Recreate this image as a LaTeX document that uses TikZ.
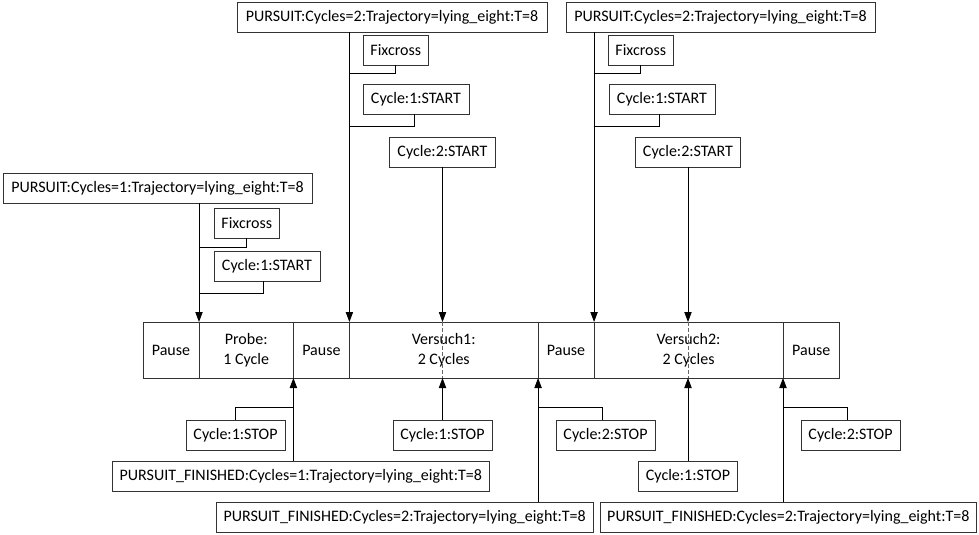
\documentclass[tikz,border=0pt]{standalone}
\usepackage{fontspec}
\setmainfont{Carlito}
\usetikzlibrary{arrows.meta,positioning}

\begin{document}
\begin{tikzpicture}[x=0.75pt,y=-0.75pt,
  every node/.style={font=\fontsize{12}{14.6}\selectfont},
  evbox/.style={draw=black!80, line width=0.6pt, minimum height=22.5pt, inner sep=1pt, outer sep=0pt},
  seg/.style={draw=black!80, line width=0.6pt, minimum height=42pt, inner sep=0pt, outer sep=0pt, align=center},
  arr/.style={line width=0.6pt, -{Triangle[length=7.5pt,width=5.5pt]}},
  link/.style={line width=0.6pt},
  dashline/.style={line width=0.6pt, black!60, dash pattern=on 3pt off 1.5pt}]
\useasboundingbox (0,0) rectangle (979,535);

% time line
\node[seg, minimum width=42pt, anchor=north west] (pa1) at (143,322) {Pause};
\node[seg, minimum width=70.8pt, right=0pt of pa1] (probe) {Probe:\\1 Cycle};
\node[seg, minimum width=42pt, right=0pt of probe] (pa2) {Pause};
\node[seg, minimum width=141.5pt, right=0pt of pa2] (v1) {Versuch1:\\2 Cycles};
\node[seg, minimum width=42pt, right=0pt of v1] (pa3) {Pause};
\node[seg, minimum width=141.7pt, right=0pt of pa3] (v2) {Versuch2:\\2 Cycles};
\node[seg, minimum width=42.5pt, right=0pt of v2] (pa4) {Pause};

% events above
\node[evbox, minimum width=231.8pt, anchor=north west] (pur1) at (3,173) {PURSUIT:Cycles=1:Trajectory=lying\_eight:T=8};
\node[evbox, minimum width=49.2pt, anchor=north west] (fix1) at (214,208) {Fixcross};
\node[evbox, minimum width=79.5pt, anchor=north west] (cs1) at (214,251) {Cycle:1:START};
\coordinate (k1) at (199,247);
\coordinate (k2) at (199,293);
\draw[arr] (pur1.south -| probe.north west) -- (probe.north west);
\draw[link] (fix1.south) |- (k1);
\draw[link] ([xshift=-2.5pt]cs1.south) |- (k2);

\node[evbox, minimum width=232.5pt, anchor=north west] (pur2) at (237,2) {PURSUIT:Cycles=2:Trajectory=lying\_eight:T=8};
\node[evbox, minimum width=49.2pt, anchor=north west] (fix2) at (363,35) {Fixcross};
\node[evbox, minimum width=79.5pt, anchor=north west] (cs2) at (363,84) {Cycle:1:START};
\node[evbox, minimum width=79.2pt, anchor=south] (cs3) at (442.5,167) {Cycle:2:START};
\coordinate (k3) at (350,73);
\coordinate (k4) at (350,126);
\draw[arr] (pur2.south -| v1.north west) -- (v1.north west);
\draw[link] (fix2.south) |- (k3);
\draw[link] ([xshift=-1.5pt]cs2.south) |- (k4);
\draw[arr] (cs3.south) -- (cs3.south |- v1.north);
\draw[dashline] (cs3.south |- v1.north) -- (cs3.south |- v1.south);

\node[evbox, minimum width=231.8pt, anchor=north west] (pur3) at (566,2) {PURSUIT:Cycles=2:Trajectory=lying\_eight:T=8};
\node[evbox, minimum width=49.2pt, anchor=north west] (fix3) at (608,35) {Fixcross};
\node[evbox, minimum width=79.5pt, anchor=north west] (cs4) at (609,84) {Cycle:1:START};
\node[evbox, minimum width=79.2pt, anchor=south] (cs5) at (688,167) {Cycle:2:START};
\coordinate (k5) at (595,73);
\coordinate (k6) at (595,126);
\draw[arr] (pur3.south -| v2.north west) -- (v2.north west);
\draw[link] (fix3.south) |- (k5);
\draw[link] ([xshift=-2pt]cs4.south) |- (k6);
\draw[arr] (cs5.south) -- (cs5.south |- v2.north);
\draw[dashline] (cs5.south |- v2.north) -- (cs5.south |- v2.south);

% events below
\node[evbox, minimum width=74.3pt, anchor=north west] (st1) at (186,420) {Cycle:1:STOP};
\node[evbox, minimum width=283.2pt, anchor=north west] (fin1) at (112,461) {PURSUIT\_FINISHED:Cycles=1:Trajectory=lying\_eight:T=8};
\coordinate (k7) at (294,407);
\draw[link] (st1.north) |- (k7);
\draw[arr] (fin1.north -| probe.south east) -- (probe.south east);

\node[evbox, minimum width=74.3pt, anchor=north] (st2) at (442.5,420) {Cycle:1:STOP};
\draw[arr] (st2.north) -- (st2.north |- v1.south);

\node[evbox, minimum width=74.3pt, anchor=north west] (st3) at (556,420) {Cycle:2:STOP};
\node[evbox, minimum width=283pt, anchor=north west] (fin2) at (216,502) {PURSUIT\_FINISHED:Cycles=2:Trajectory=lying\_eight:T=8};
\coordinate (k8) at (539,407);
\draw[link] ([xshift=-2pt]st3.north) |- (k8);
\draw[arr] (fin2.north -| v1.south east) -- (v1.south east);

\node[evbox, minimum width=74.3pt, anchor=north] (st4) at (688,461) {Cycle:1:STOP};
\draw[arr] (st4.north) -- (st4.north |- v2.south);

\node[evbox, minimum width=74.3pt, anchor=north west] (st5) at (801,420) {Cycle:2:STOP};
\node[evbox, minimum width=282.5pt, anchor=north west] (fin3) at (600,502) {PURSUIT\_FINISHED:Cycles=2:Trajectory=lying\_eight:T=8};
\coordinate (k9) at (784,407);
\draw[link] ([xshift=-2pt]st5.north) |- (k9);
\draw[arr] (fin3.north -| v2.south east) -- (v2.south east);
\end{tikzpicture}
\end{document}
